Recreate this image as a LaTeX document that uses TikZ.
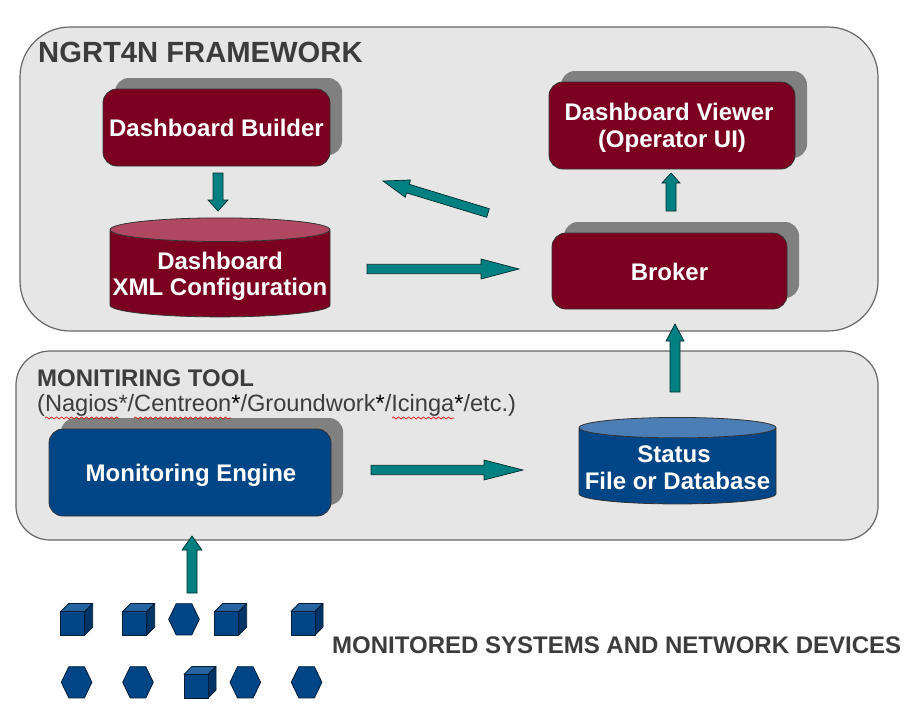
\documentclass[tikz,border=0pt]{standalone}
\usepackage{fontspec}
\setmainfont{Liberation Sans}
\usepackage{xcolor}
\usetikzlibrary{calc,shadows,shapes.geometric,decorations.pathmorphing}
\definecolor{panelgray}{RGB}{230,230,230}
\definecolor{panelline}{RGB}{102,102,102}
\definecolor{shadowgray}{RGB}{128,128,128}
\definecolor{wine}{RGB}{123,0,32}
\definecolor{winetop}{RGB}{176,72,98}
\definecolor{navy}{RGB}{0,69,134}
\definecolor{navytop}{RGB}{74,126,181}
\definecolor{navylight}{RGB}{38,100,160}
\definecolor{navydark}{RGB}{0,52,102}
\definecolor{arrowteal}{RGB}{0,128,128}
\definecolor{titlegray}{RGB}{60,60,60}
\tikzset{
	panel/.style={draw=panelline, line width=1.2pt, fill=panelgray, minimum width=#1},
	box/.style={draw=black!80, line width=0.8pt, rounded corners=14pt, text=white, align=center,
		inner sep=0pt, outer sep=0pt,
		font=\fontsize{24}{27}\selectfont\bfseries,
		copy shadow={draw=none, fill=shadowgray, shadow xshift=12pt, shadow yshift=11pt}},
	winebox/.style={box, fill=wine},
	navybox/.style={box, fill=navy},
	drum/.style={cylinder, shape border rotate=90, draw=black!80, line width=0.8pt, text=white, align=center,
		inner sep=0pt, outer sep=0pt, cylinder uses custom fill,
		font=\fontsize{24}{26.5}\selectfont\bfseries},
	title/.style={anchor=west, inner sep=0pt, text=titlegray, font=\fontsize{29.2}{32}\selectfont\bfseries},
	fat/.style={draw=black!65!arrowteal, line width=0.7pt, fill=arrowteal},
	spell/.style={draw=red!85!black, line width=0.6pt, decorate, decoration={snake, segment length=5pt, amplitude=1.1pt}},
	device/.style={draw=black!60!navy, line width=0.8pt, line join=round}
}
\newcommand{\lowertext}[2]{\raisebox{-#1pt}[\height][\depth]{\begin{tabular}{@{}c@{}}#2\end{tabular}}}
\newcommand{\fatarrow}[5]{
	\coordinate (neck) at ($(#2)!#3pt!(#1)$);
	\draw[fat] ($(#1)!#4pt!90:(#2)$) -- ($(neck)!#4pt!90:(#2)$) -- ($(neck)!#5pt!90:(#2)$) -- (#2)
		-- ($(neck)!#5pt!-90:(#2)$) -- ($(neck)!#4pt!-90:(#2)$) -- ($(#1)!#4pt!-90:(#2)$) -- cycle;
}
\newcommand{\cube}[2]{
	\fill[navylight, device] (#1,#2) -- ++(8,-8) -- ++(24,0) -- ++(-8,8) -- cycle;
	\fill[navydark, device] (#1+24,#2) -- ++(8,-8) -- ++(0,23.5) -- ++(-8,8) -- cycle;
	\fill[navy, device] (#1,#2) rectangle ++(24,23.5);
}
\newcommand{\hexa}[2]{
	\fill[navy, device] (#1,#2) -- ++(7.5,-15.6) -- ++(15.6,0) -- ++(7.5,15.6) -- ++(-7.5,15.6) -- ++(-15.6,0) -- cycle;
}
\begin{document}
\begin{tikzpicture}[x=1pt, y=-1pt]
	\useasboundingbox (0,0) rectangle (917,726);

	\node[panel=858pt, minimum height=304pt, rounded corners=50pt] (framework) at (449,179) {};
	\node[panel=862pt, minimum height=189pt, rounded corners=34pt] (tool) at (447,445.5) {};

	\node[title] (frameworktitle) at (38,52.5) {NGRT4N FRAMEWORK};
	\node[title, font=\fontsize{24}{26}\selectfont\bfseries] (tooltitle) at (37,378) {MONITIRING TOOL};
	\node[title, font=\fontsize{23.6}{26}\selectfont] (toollist) at (37,405.5) {(Nagios*/Centreon{\color{black}*}/Groundwork{\color{black}*}/Icinga{\color{black}*}/etc.)};
	\node[title, font=\fontsize{24}{26}\selectfont\bfseries] (devicestitle) at (332,645) {MONITORED SYSTEMS AND NETWORK DEVICES};

	\node[winebox, minimum width=227pt, minimum height=77pt] (builder) at (216.5,127.5) {Dashboard Builder};
	\node[winebox, minimum width=246pt, minimum height=87pt] (viewer) at (672,125.5) {\lowertext{3}{Dashboard Viewer\kern6pt\\(Operator UI)}};
	\node[winebox, minimum width=235pt, minimum height=76pt] (broker) at (669.5,271) {\lowertext{4}{Broker}};
	\node[navybox, minimum width=282pt, minimum height=87pt] (engine) at (190,472.5) {\lowertext{4}{\kern2pt Monitoring Engine}};

	\node[drum, minimum width=220pt, minimum height=99pt, aspect=0.11, cylinder body fill=wine, cylinder end fill=winetop] (config) at (220,273.5) {\lowertext{3.5}{Dashboard\\XML Configuration}};
	\node[drum, minimum width=197pt, minimum height=86.5pt, aspect=0.11, cylinder body fill=navy, cylinder end fill=navytop] (status) at (677.5,466) {\lowertext{4.5}{Status\kern7pt\\File or Database}};

	\draw[spell] (45,418) -- (119,418);
	\draw[spell] (134,418) -- (231,418);
	\draw[spell] (392,418) -- (454,418);

	\coordinate (buildertail) at (218,173);
	\coordinate (builderhead) at (218,211);
	\coordinate (viewfeedtail) at (488,213);
	\coordinate (viewfeedhead) at (383,181);
	\coordinate (configtail) at (367,269);
	\coordinate (confighead) at (519,269);
	\coordinate (brokertail) at (671,211);
	\coordinate (brokerhead) at (671,173);
	\coordinate (statustail) at (675,392);
	\coordinate (statushead) at (675,324);
	\coordinate (enginetail) at (371,470);
	\coordinate (enginehead) at (523,470);
	\coordinate (devicestail) at (192,593);
	\coordinate (deviceshead) at (192,536);

	\fatarrow{buildertail}{builderhead}{11}{5}{10}
	\fatarrow{viewfeedtail}{viewfeedhead}{26}{4.5}{9}
	\fatarrow{configtail}{confighead}{38}{4.7}{10}
	\fatarrow{brokertail}{brokerhead}{10}{5}{9}
	\fatarrow{statustail}{statushead}{17}{5}{9}
	\fatarrow{enginetail}{enginehead}{39}{4.7}{10}
	\fatarrow{devicestail}{deviceshead}{14}{5}{10}

	\cube{60.7}{611.5}
	\cube{122.7}{611.5}
	\hexa{168.7}{619.3}
	\cube{214.7}{611.5}
	\cube{291}{611.5}

	\hexa{61.3}{682.3}
	\hexa{122.7}{682.3}
	\cube{184}{674.5}
	\hexa{230}{682.3}
	\hexa{291.3}{682.3}
\end{tikzpicture}
\end{document}
